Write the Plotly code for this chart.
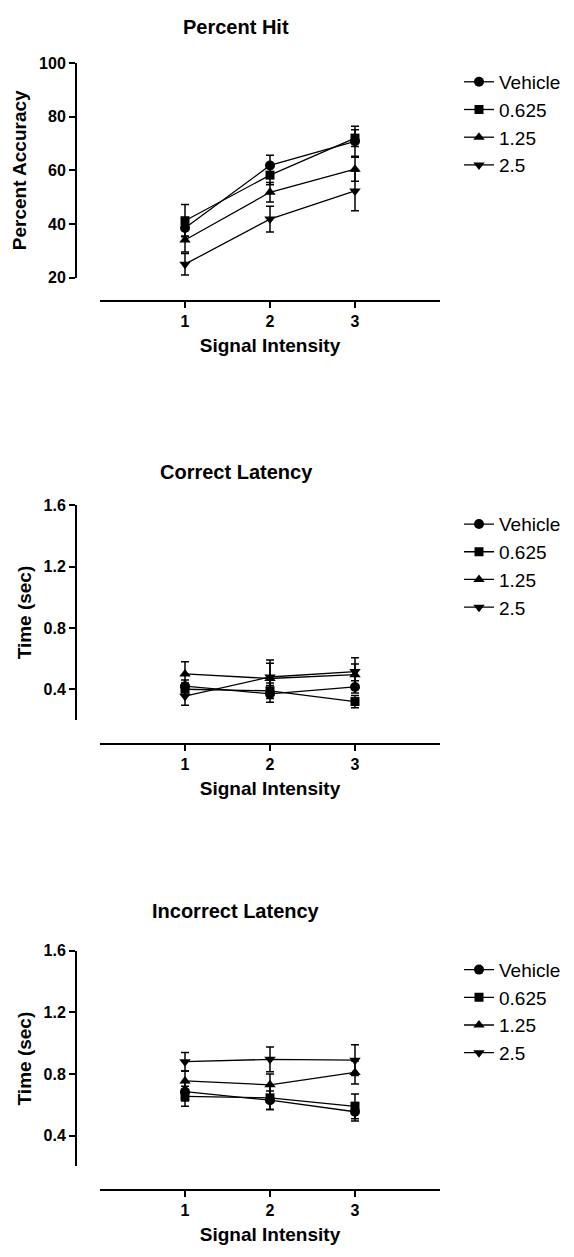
import plotly.graph_objects as go

# Signal intensity levels and dose groups
intensity = [1, 2, 3]
groups = ["Vehicle", "0.625", "1.25", "2.5"]

# Percent hit (mean, SEM)
hit_vehicle = [38.5, 61.8, 70.8]
hit_0625 = [41.2, 58.2, 72.0]
hit_125 = [34.0, 51.8, 60.4]
hit_25 = [25.0, 41.8, 52.3]
hit_vehicle_sem = [3.0, 3.8, 5.6]
hit_0625_sem = [6.0, 3.6, 3.1]
hit_125_sem = [4.5, 3.6, 4.5]
hit_25_sem = [4.0, 4.8, 7.4]

# Correct latency, seconds (mean, SEM)
cor_vehicle = [0.42, 0.37, 0.415]
cor_0625 = [0.40, 0.39, 0.32]
cor_125 = [0.50, 0.47, 0.495]
cor_25 = [0.355, 0.48, 0.515]
cor_vehicle_sem = [0.04, 0.055, 0.04]
cor_0625_sem = [0.04, 0.05, 0.04]
cor_125_sem = [0.08, 0.10, 0.07]
cor_25_sem = [0.06, 0.11, 0.09]

# Incorrect latency, seconds (mean, SEM)
inc_vehicle = [0.685, 0.63, 0.555]
inc_0625 = [0.655, 0.645, 0.59]
inc_125 = [0.755, 0.73, 0.81]
inc_25 = [0.88, 0.895, 0.89]
inc_vehicle_sem = [0.06, 0.06, 0.06]
inc_0625_sem = [0.065, 0.075, 0.08]
inc_125_sem = [0.065, 0.07, 0.075]
inc_25_sem = [0.06, 0.08, 0.10]

x_ticks = [1, 2, 3]
hit_ticks = [20, 40, 60, 80, 100]
time_ticks = [0.4, 0.8, 1.2, 1.6]

W, H = 574, 1257
FONT = "Liberation Sans, Arial, sans-serif"
symbols = ["circle", "square", "triangle-up", "triangle-down"]
msizes = [10, 9, 10, 10]


def fx(p):
    return p / W


def fy(p):
    return 1 - p / H


panels = [
    dict(title="Percent Hit", ytitle="Percent Accuracy",
         means=[hit_vehicle, hit_0625, hit_125, hit_25],
         sems=[hit_vehicle_sem, hit_0625_sem, hit_125_sem, hit_25_sem],
         yrange=[20, 100], yticks=hit_ticks, fmt="d",
         top=55.7, bot=273.3, xline=296.7, title_y=19),
    dict(title="Correct Latency", ytitle="Time (sec)",
         means=[cor_vehicle, cor_0625, cor_125, cor_25],
         sems=[cor_vehicle_sem, cor_0625_sem, cor_125_sem, cor_25_sem],
         yrange=[0.2, 1.6], yticks=time_ticks, fmt=".1f",
         top=504.0, bot=721.7, xline=746.0, title_y=470),
    dict(title="Incorrect Latency", ytitle="Time (sec)",
         means=[inc_vehicle, inc_0625, inc_125, inc_25],
         sems=[inc_vehicle_sem, inc_0625_sem, inc_125_sem, inc_25_sem],
         yrange=[0.2, 1.6], yticks=time_ticks, fmt=".1f",
         top=955.7, bot=1174.3, xline=1197.7, title_y=915),
]

fig = go.Figure()
layout = dict(
    width=W, height=H, autosize=False,
    margin=dict(l=0, r=0, t=0, b=0),
    paper_bgcolor="white", plot_bgcolor="white",
    font=dict(family=FONT, color="black"),
    annotations=[],
)

for i, p in enumerate(panels):
    n = "" if i == 0 else str(i + 1)
    leg = "legend" if i == 0 else f"legend{i + 1}"
    for g, name in enumerate(groups):
        fig.add_trace(go.Scatter(
            x=intensity, y=p["means"][g],
            mode="lines+markers", name=name,
            xaxis="x" + n, yaxis="y" + n,
            legend=leg, legendgroup=f"{i}-{name}",
            line=dict(color="black", width=1.3),
            marker=dict(symbol=symbols[g], size=msizes[g], color="black"),
            error_y=dict(type="data", array=p["sems"][g], visible=True,
                         color="black", thickness=1.5, width=4),
            cliponaxis=False,
        ))

    layout["xaxis" + n] = dict(
        domain=[fx(100), fx(440)], range=[0, 4],
        anchor="free", position=fy(p["xline"]),
        showline=True, linecolor="black", linewidth=2,
        ticks="outside", ticklen=6, tickwidth=2, tickcolor="black",
        tickvals=x_ticks, showgrid=False, zeroline=False,
        tickfont=dict(family=FONT, size=16, color="black", weight="bold"),
        title=dict(text="Signal Intensity", standoff=9,
                   font=dict(family=FONT, size=19, color="black", weight="bold")),
        fixedrange=True,
    )
    layout["yaxis" + n] = dict(
        domain=[fy(p["bot"]), fy(p["top"])], range=p["yrange"],
        anchor="free", position=fx(76),
        showline=True, linecolor="black", linewidth=2,
        ticks="outside", ticklen=6, tickwidth=2, tickcolor="black",
        tickvals=p["yticks"], tickformat=p["fmt"], showgrid=False, zeroline=False,
        tickfont=dict(family=FONT, size=16, color="black", weight="bold"),
        title=dict(text=p["ytitle"], standoff=6,
                   font=dict(family=FONT, size=19, color="black", weight="bold")),
        fixedrange=True,
    )
    layout[leg] = dict(
        x=fx(459), y=fy(p["top"]), xanchor="left", yanchor="top",
        font=dict(family=FONT, size=19, color="black"),
        bgcolor="rgba(0,0,0,0)", tracegroupgap=0, itemwidth=30,
    )
    layout["annotations"].append(dict(
        text=p["title"], x=fx(236), y=fy(p["title_y"]),
        xref="paper", yref="paper", xanchor="center", yanchor="middle",
        showarrow=False,
        font=dict(family=FONT, size=20, color="black", weight="bold"),
    ))

fig.update_layout(**layout)
fig.write_html("out.html")
